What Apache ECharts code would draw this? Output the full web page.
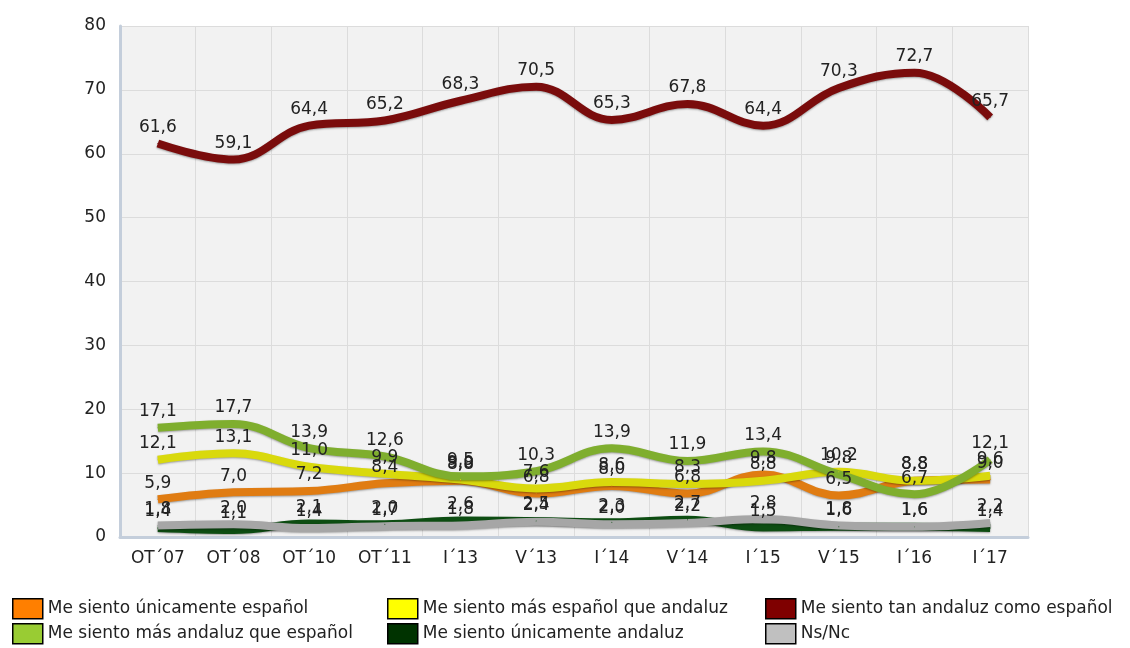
<!DOCTYPE html>
<html>
<head>
<meta charset="utf-8">
<script src="https://cdn.jsdelivr.net/npm/echarts@6/dist/echarts.min.js"></script>
<style>
  html, body { margin: 0; padding: 0; background: #fff; }
  #chart { width: 1130px; height: 648px; }
</style>
</head>
<body>
<div id="chart"></div>
<script>
// periodos de la encuesta
var categories = ['OT´07', 'OT´08', 'OT´10', 'OT´11', 'I´13', 'V´13', 'I´14', 'V´14', 'I´15', 'V´15', 'I´16', 'I´17'];

var unicEspanol = [5.9, 7.0, 7.2, 8.4, 8.8, 6.8, 8.0, 6.8, 9.8, 6.5, 8.8, 9.0];
var masEspanol = [12.1, 13.1, 11.0, 9.9, 9.0, 7.6, 8.6, 8.3, 8.8, 10.2, 8.8, 9.6];
var tanAndaluz = [61.6, 59.1, 64.4, 65.2, 68.3, 70.5, 65.3, 67.8, 64.4, 70.3, 72.7, 65.7];
var masAndaluz = [17.1, 17.7, 13.9, 12.6, 9.5, 10.3, 13.9, 11.9, 13.4, 9.8, 6.7, 12.1];
var unicAndaluz = [1.4, 1.1, 2.1, 2.0, 2.6, 2.5, 2.3, 2.7, 1.5, 1.6, 1.6, 1.4];
var nsnc = [1.8, 2.0, 1.4, 1.7, 1.8, 2.4, 2.0, 2.2, 2.8, 1.8, 1.6, 2.2];

var yTicks = [0, 10, 20, 30, 40, 50, 60, 70, 80];

var font = 'DejaVu Sans';

function linea(name, data, color) {
    return {
        name: name,
        type: 'line',
        data: data,
        smooth: 0.4,
        symbol: 'circle',
        symbolSize: 1,
        itemStyle: { color: color },
        lineStyle: {
            width: 8,
            color: color,
            shadowColor: 'rgba(0,0,0,0.35)',
            shadowBlur: 2,
            shadowOffsetY: 1
        },
        label: {
            show: true,
            position: 'top',
            distance: 7,
            fontFamily: font,
            fontSize: 17,
            color: '#222',
            formatter: function (p) {
                return p.value.toFixed(1).replace('.', ',');
            }
        },
        emphasis: { disabled: true }
    }
}

// una leyenda por serie, colocadas en 3 columnas x 2 filas
function leyenda(left, top, name, color) {
    return {
        left: left,
        top: top,
        padding: 0,
        icon: 'rect',
        itemWidth: 30,
        itemHeight: 20,
        data: [{ name: name, itemStyle: { color: color, borderColor: '#000', borderWidth: 1.5 } }],
        textStyle: { fontFamily: font, fontSize: 17, color: '#222' },
        selectedMode: false
    }
}

var chart = echarts.init(document.getElementById('chart'));
chart.setOption({
    animation: false,
    backgroundColor: '#fff',
    grid: {
        left: 120,
        right: 102,
        top: 26,
        bottom: 111,
        show: true,
        backgroundColor: '#f2f2f2',
        borderWidth: 0
    },
    legend: [
        leyenda(12, 598, 'Me siento únicamente español', '#ff7f00'),
        leyenda(12, 623, 'Me siento más andaluz que español', '#99cc33'),
        leyenda(387, 598, 'Me siento más español que andaluz', '#ffff00'),
        leyenda(387, 623, 'Me siento únicamente andaluz', '#003300'),
        leyenda(765, 598, 'Me siento tan andaluz como español', '#7f0000'),
        leyenda(765, 623, 'Ns/Nc', '#c0c0c0')
    ],
    xAxis: {
        type: 'category',
        data: categories,
        boundaryGap: true,
        axisLine: { lineStyle: { color: '#c4cedb', width: 3 } },
        axisTick: { show: false },
        axisLabel: { fontFamily: font, fontSize: 17, color: '#222', margin: 13 },
        splitLine: { show: true, lineStyle: { color: '#dcdcdc', width: 1 } }
    },
    yAxis: {
        type: 'value',
        min: yTicks[0],
        max: yTicks[yTicks.length - 1],
        interval: 10,
        axisLine: { show: true, lineStyle: { color: '#c4cedb', width: 3 } },
        axisTick: { show: false },
        axisLabel: { fontFamily: font, fontSize: 17, color: '#222', margin: 14 },
        splitLine: { lineStyle: { color: '#dcdcdc', width: 1 } }
    },
    series: [
        linea('Me siento únicamente andaluz', unicAndaluz, '#0d4d12'),
        linea('Ns/Nc', nsnc, '#a6a6a6'),
        linea('Me siento únicamente español', unicEspanol, '#e07c12'),
        linea('Me siento más español que andaluz', masEspanol, '#d9d90c'),
        linea('Me siento más andaluz que español', masAndaluz, '#7fae2e'),
        linea('Me siento tan andaluz como español', tanAndaluz, '#7a0c0c')
    ]
});
</script>
</body>
</html>
